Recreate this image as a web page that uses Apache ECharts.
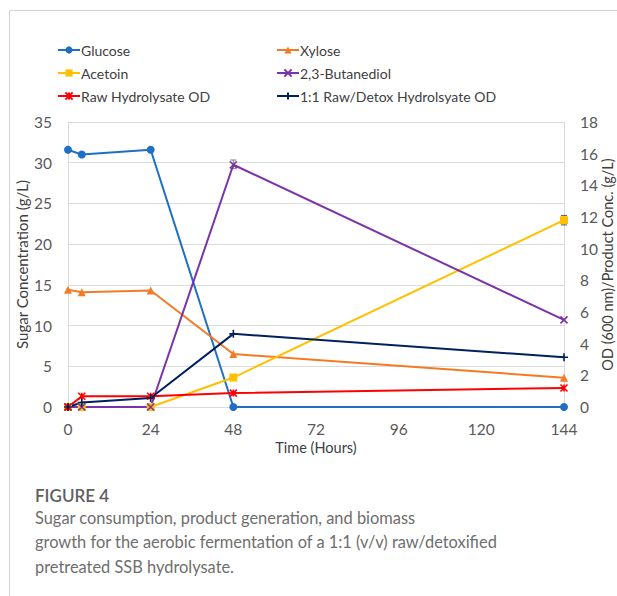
<!DOCTYPE html>
<html><head><meta charset="utf-8">
<script src="https://cdn.jsdelivr.net/npm/echarts@6/dist/echarts.min.js"></script>
<style>html,body{margin:0;padding:0;background:#fff;}#c{width:617px;height:596px;}</style>
</head><body><div id="c"></div>
<script>
const hours = [0, 4, 24, 48, 144];
const xTicks = [0, 24, 48, 72, 96, 120, 144];
const glucose = [31.6, 31.0, 31.6, 0, 0];
const xylose = [14.4, 14.1, 14.3, 6.5, 3.6];
const acetoin = [0, 0, 0, 1.86, 11.8];
const butanediol = [0, 0, 0, 15.3, 5.5];
const rawOD = [0, 0.68, 0.68, 0.88, 1.2];
const mixOD = [0, 0.28, 0.57, 4.62, 3.14];
const errAcetoin = [[144, 11.5, 12.1]];
const errBDO = [[48, 15.05, 15.6]];
const names = ['Glucose','Xylose','Acetoin','2,3-Butanediol','Raw Hydrolysate OD','1:1 Raw/Detox Hydrolsyate OD'];
const colors = ['#1F6FC4','#F47B26','#FFC000','#7A33A8','#FF0000','#00205F'];
const captionTitle = 'FIGURE 4';
const captionLines = ['Sugar consumption, product generation, and biomass','growth for the aerobic fermentation of a 1:1 (v/v) raw/detoxified','pretreated SSB hydrolysate.'];

const font = 'Lato, "Open Sans", sans-serif';
const pair = arr => hours.map((h,i)=>[h, arr[i]]);
const xSym = 'path://M0,0L10,10M10,0L0,10';
const starSym = 'path://M0,0L10,10M10,0L0,10M5,0L5,10';
const plusSym = 'path://M5,0L5,10M0,5L10,5';

function lineSeries(i, data, yIdx, symbol, size, stroke) {
  return {
    name: names[i], type: 'line', data: pair(data), yAxisIndex: yIdx,
    symbol: symbol, symbolSize: size, showAllSymbol: true,
    lineStyle: {color: colors[i], width: 2},
    itemStyle: stroke ? {color: colors[i], borderColor: colors[i], borderWidth: 1.6} : {color: colors[i]},
    z: 3
  };
}
function errSeries(data, color) {
  return {
    type: 'custom', yAxisIndex: 1, data: data, silent: true, z: 2,
    renderItem: (p, api) => {
      const x = api.value(0);
      const lo = api.coord([x, api.value(1)]);
      const hi = api.coord([x, api.value(2)]);
      const w = 3;
      const st = {stroke: color, lineWidth: 1};
      return {type: 'group', children: [
        {type: 'line', shape: {x1: lo[0], y1: lo[1], x2: hi[0], y2: hi[1]}, style: st},
        {type: 'line', shape: {x1: lo[0]-w, y1: lo[1], x2: lo[0]+w, y2: lo[1]}, style: st},
        {type: 'line', shape: {x1: hi[0]-w, y1: hi[1], x2: hi[0]+w, y2: hi[1]}, style: st}
      ]};
    }
  };
}

const chart = echarts.init(document.getElementById('c'), null, {renderer: 'svg'});
const legendCommon = {orient: 'vertical', itemWidth: 22, itemHeight: 9, itemGap: 9,
  textStyle: {fontFamily: font, fontSize: 14, color: '#404040', padding: [0,0,0,-4]}};
chart.setOption({
  animation: false,
  textStyle: {fontFamily: font},
  legend: [
    Object.assign({left: 52, top: 38, data: [names[0], names[2], names[4]]}, legendCommon),
    Object.assign({left: 271, top: 38, data: [names[1], names[3], names[5]]}, legendCommon)
  ],
  grid: {left: 68, right: 53, top: 122, bottom: 189, outerBoundsMode: 'none', containLabel: false},
  xAxis: {
    type: 'value', min: 0, max: 144, interval: 24,
    name: 'Time (Hours)', nameLocation: 'middle', nameGap: 33, nameMoveOverlap: false,
    nameTextStyle: {fontFamily: font, fontSize: 14.5, color: '#404040'},
    axisLine: {lineStyle: {color: '#d9d9d9'}}, axisTick: {show: false},
    axisLabel: {fontSize: 15.5, color: '#595959', margin: 14,
      formatter: v => xTicks.indexOf(v) >= 0 ? String(v) : ''},
    splitLine: {show: false}
  },
  yAxis: [
    {type: 'value', min: 0, max: 35, interval: 5,
      name: 'Sugar Concentration (g/L)', nameLocation: 'middle', nameGap: 39, nameRotate: 90, nameMoveOverlap: false,
      nameTextStyle: {fontFamily: font, fontSize: 15, color: '#404040'},
      axisLine: {show: true, lineStyle: {color: '#d9d9d9'}}, axisTick: {show: false},
      axisLabel: {fontSize: 15.5, color: '#595959', margin: 16},
      splitLine: {lineStyle: {color: '#dcdcdc', width: 1}}},
    {type: 'value', min: 0, max: 18, interval: 2, position: 'right',
      name: 'OD (600 nm)/Product Conc. (g/L)', nameLocation: 'middle', nameGap: 36, nameRotate: 90, nameMoveOverlap: false,
      nameTextStyle: {fontFamily: font, fontSize: 14.5, color: '#404040'},
      axisLine: {show: true, lineStyle: {color: '#d9d9d9'}}, axisTick: {show: false},
      axisLabel: {fontSize: 15.5, color: '#595959', margin: 16},
      splitLine: {show: false}}
  ],
  series: [
    lineSeries(0, glucose, 0, 'circle', 8, false),
    lineSeries(1, xylose, 0, 'triangle', 8, false),
    lineSeries(2, acetoin, 1, 'rect', 8, false),
    lineSeries(3, butanediol, 1, xSym, 7, true),
    lineSeries(4, rawOD, 1, starSym, 7, true),
    lineSeries(5, mixOD, 1, plusSym, 8, true),
    errSeries(errAcetoin, '#595959'),
    errSeries(errBDO, '#7f7f7f')
  ],
  graphic: [
    {type: 'line', shape: {x1: 9.5, y1: 10.5, x2: 617, y2: 10.5}, style: {stroke: '#d4d4d4', lineWidth: 1}, silent: true},
    {type: 'line', shape: {x1: 9.5, y1: 10.5, x2: 9.5, y2: 596}, style: {stroke: '#d4d4d4', lineWidth: 1}, silent: true},
    {type: 'text', left: 35, top: 487, style: {text: captionTitle, font: '600 17px ' + font, fill: '#5f5f5f'}},
    {type: 'text', left: 35, top: 505, style: {text: captionLines.join('\n'), font: '16.4px ' + font, fill: '#6e6e6e', lineHeight: 24.5}}
  ]
});
</script></body></html>
